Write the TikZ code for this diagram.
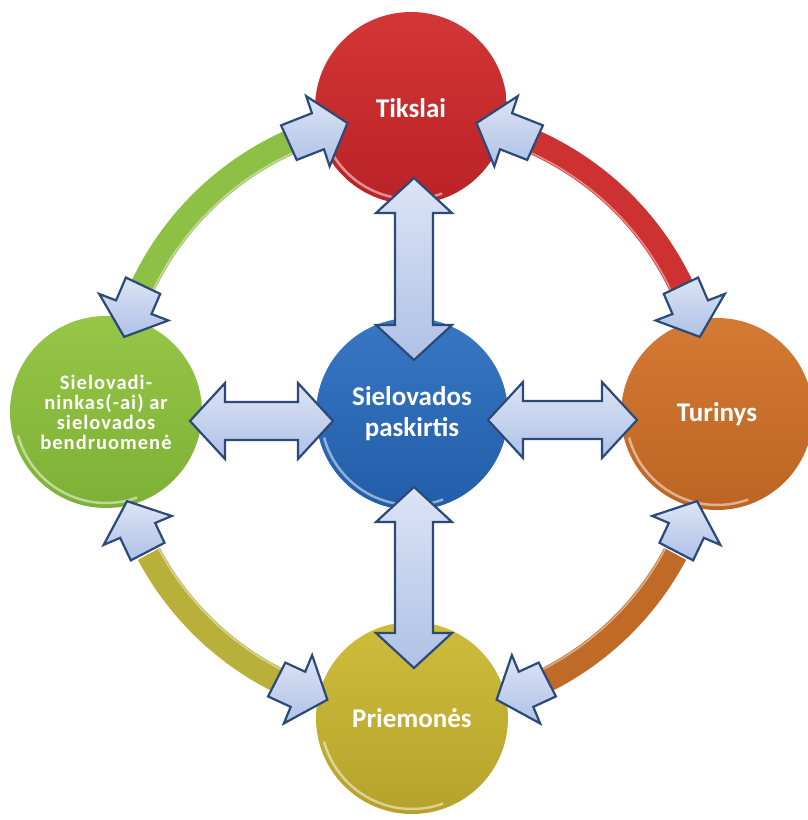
\documentclass[tikz,border=0pt]{standalone}
\usepackage{fontspec}
\setmainfont{Carlito}
\usetikzlibrary{calc}
\definecolor{redtop}{HTML}{D33636}
\definecolor{redbot}{HTML}{BA2226}
\definecolor{greentop}{HTML}{96C646}
\definecolor{greenbot}{HTML}{7DB036}
\definecolor{bluetop}{HTML}{3877C4}
\definecolor{bluebot}{HTML}{225DA9}
\definecolor{orangetop}{HTML}{D47A34}
\definecolor{orangebot}{HTML}{BC6423}
\definecolor{yellowtop}{HTML}{CEBD3C}
\definecolor{yellowbot}{HTML}{B6A22B}
\definecolor{ringgreen}{HTML}{8DC045}
\definecolor{ringred}{HTML}{CE3131}
\definecolor{ringorange}{HTML}{BF6A27}
\definecolor{ringyellow}{HTML}{B8B03A}
\definecolor{arrowline}{HTML}{2C4A78}
\definecolor{arrowtop}{HTML}{DCE4F5}
\definecolor{arrowbot}{HTML}{AFC1E6}
\tikzset{
  ball/.style={circle, minimum size=192pt, inner sep=0pt, text=white, align=center,
    font=\bfseries\fontsize{27}{31}\selectfont},
  smallball/.style={ball, font=\bfseries\fontsize{20.5}{20}\selectfont\addfontfeatures{LetterSpace=5}},
  blockarrow/.style={draw=arrowline, line width=2.2pt, line join=miter,
    top color=arrowtop, bottom color=arrowbot},
  ringarc/.style={line width=25pt},
  ringshine/.style={white, opacity=0.45, line width=1.6pt},
  gloss/.style={white, opacity=0.5, line width=2.5pt}
}
\newcommand{\dblarrow}[2]{%
  \draw[blockarrow] (#1)
    -- ($(#1)!35pt!(#2)!38pt!90:(#2)$)
    -- ($(#1)!35pt!(#2)!19pt!90:(#2)$)
    -- ($(#2)!35pt!(#1)!19pt!-90:(#1)$)
    -- ($(#2)!35pt!(#1)!38pt!-90:(#1)$)
    -- (#2)
    -- ($(#2)!35pt!(#1)!38pt!90:(#1)$)
    -- ($(#2)!35pt!(#1)!19pt!90:(#1)$)
    -- ($(#1)!35pt!(#2)!19pt!-90:(#2)$)
    -- ($(#1)!35pt!(#2)!38pt!-90:(#2)$)
    -- cycle;}
% #1 tip angle, #2 barb angle, #3 back angle (around the centre node)
\newcommand{\ringarrow}[3]{%
  \draw[blockarrow]
    ([shift={(siel.center)}]#3:317) -- ([shift={(siel.center)}]#2:317)
    -- ([shift={(siel.center)}]#2:335) -- ([shift={(siel.center)}]#1:298)
    -- ([shift={(siel.center)}]#2:261) -- ([shift={(siel.center)}]#2:279)
    -- ([shift={(siel.center)}]#3:279) -- cycle;}
% ring arc between two back angles
\newcommand{\ringpart}[3]{%
  \draw[ringarc, #1] (siel.center) ++(#2:298) arc[start angle=#2, end angle=#3, radius=298];
  \draw[ringshine] (siel.center) ++(#2:287) arc[start angle=#2, end angle=#3, radius=287];}
\begin{document}
\begin{tikzpicture}[x=1pt,y=1pt]
\useasboundingbox (-412,-406) rectangle (396,414);
% circles
\node[ball, top color=bluetop, bottom color=bluebot] (siel) at (0,0) {Sielovados\\paskirtis};
\node[ball, top color=redtop, bottom color=redbot] (tiks) at (-1,306) {Tikslai};
\node[smallball, top color=greentop, bottom color=greenbot] (sielo) at (-306,2)
  {Sielovadi-\\ninkas(-ai) ar\\sielovados\\bendruomenė};
\node[ball, top color=orangetop, bottom color=orangebot] (turi) at (305,0) {Turinys};
\node[ball, top color=yellowtop, bottom color=yellowbot] (prie) at (0,-304) {Priemonės};
% gloss
\foreach \n in {siel,tiks,sielo,turi,prie}{
  \draw[gloss] (\n.center) ++(195:91) arc[start angle=195, end angle=290, radius=91];}
% ring arcs
\ringpart{ringgreen}{114}{155}
\ringpart{ringred}{66}{25}
\ringpart{ringorange}{332}{297}
\ringpart{ringyellow}{208}{243}
% ring arrows
\ringarrow{102.5}{108.4}{114.4}
\ringarrow{165}{159}{154.5}
\ringarrow{77.5}{71.6}{65.6}
\ringarrow{15}{21}{25.5}
\ringarrow{197}{203}{207.5}
\ringarrow{253.5}{247.5}{243}
\ringarrow{286.5}{292.5}{297}
\ringarrow{343}{337}{332.5}
% straight double arrows
\coordinate (uT) at ($(tiks.center)+(3,-70)$);
\coordinate (uB) at ($(siel.center)+(2,54)$);
\coordinate (dT) at ($(siel.center)+(2,-73)$);
\coordinate (dB) at ($(prie.center)+(2,50)$);
\coordinate (lL) at ($(sielo.center)+(84,-9)$);
\coordinate (lR) at ($(siel.center)+(-79,-7)$);
\coordinate (rL) at ($(siel.center)+(76,-6)$);
\coordinate (rR) at ($(turi.center)+(-80,-6)$);
\dblarrow{uT}{uB}
\dblarrow{dT}{dB}
\dblarrow{lL}{lR}
\dblarrow{rL}{rR}
\end{tikzpicture}
\end{document}
